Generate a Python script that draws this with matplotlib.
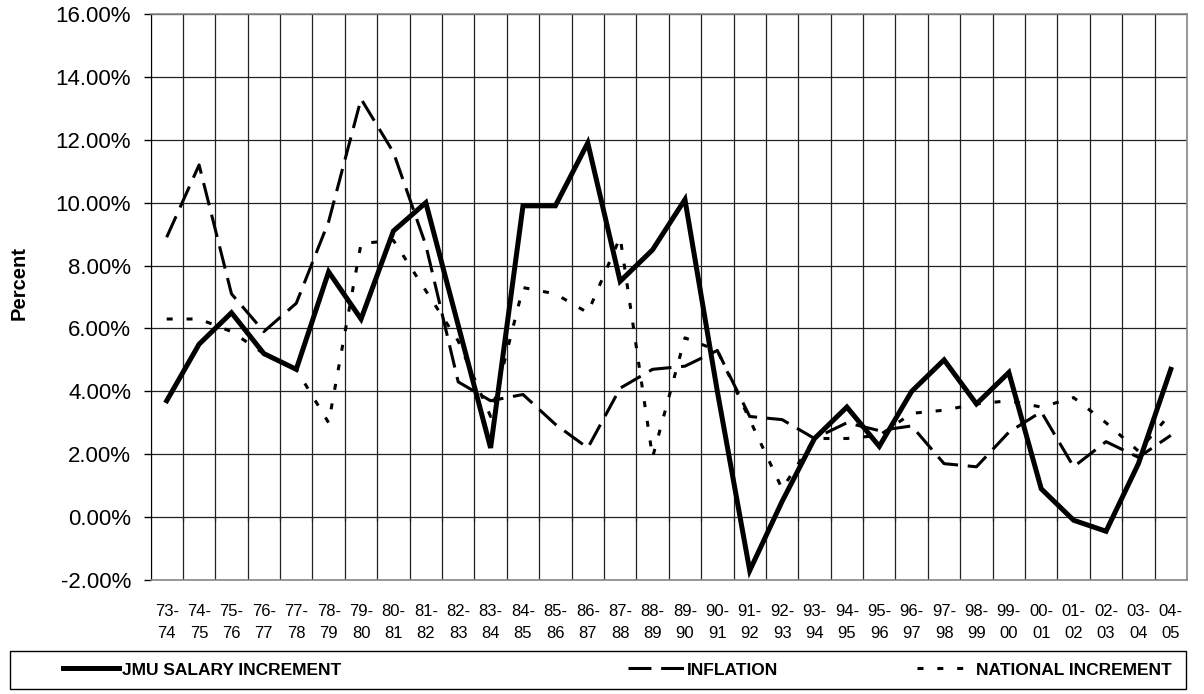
import numpy as np
import matplotlib
matplotlib.use("Agg")
import matplotlib.pyplot as plt
from matplotlib.patches import Rectangle
from matplotlib.lines import Line2D

# academic years, 73-74 .. 04-05
years = ["73-\n74", "74-\n75", "75-\n76", "76-\n77", "77-\n78", "78-\n79", "79-\n80", "80-\n81",
         "81-\n82", "82-\n83", "83-\n84", "84-\n85", "85-\n86", "86-\n87", "87-\n88", "88-\n89",
         "89-\n90", "90-\n91", "91-\n92", "92-\n93", "93-\n94", "94-\n95", "95-\n96", "96-\n97",
         "97-\n98", "98-\n99", "99-\n00", "00-\n01", "01-\n02", "02-\n03", "03-\n04", "04-\n05"]

# percent values
jmu = [3.7, 5.5, 6.5, 5.2, 4.7, 7.8, 6.3, 9.1, 10.0, 6.1, 2.2, 9.9, 9.9, 11.9, 7.5, 8.5,
       10.1, 4.0, -1.7, 0.5, 2.5, 3.5, 2.25, 4.0, 5.0, 3.6, 4.6, 0.9, -0.1, -0.45, 1.7, 4.7]
inflation = [8.9, 11.2, 7.1, 5.9, 6.8, 9.4, 13.3, 11.6, 8.65, 4.3, 3.7, 3.9, 2.95, 2.2, 4.1, 4.7,
             4.8, 5.3, 3.2, 3.1, 2.5, 3.0, 2.75, 2.9, 1.7, 1.6, 2.7, 3.35, 1.6, 2.4, 1.9, 2.6]
national = [6.3, 6.3, 5.9, 5.2, 4.7, 3.0, 8.7, 8.8, 7.2, 5.6, 3.2, 7.3, 7.1, 6.5, 8.9, 1.9,
            5.7, 5.3, 3.1, 0.9, 2.5, 2.5, 2.6, 3.3, 3.4, 3.6, 3.7, 3.5, 3.8, 3.0, 2.1, 3.3]

y_ticks = [-2, 0, 2, 4, 6, 8, 10, 12, 14, 16]

plt.rcParams["font.family"] = ["Liberation Sans", "DejaVu Sans"]
plt.rcParams["lines.scale_dashes"] = False

W, H = 1204, 694
fig = plt.figure(figsize=(W / 100, H / 100), dpi=100)
ax = fig.add_axes([150.5 / W, 1 - 580 / H, (1187 - 150.5) / W, 566 / H])

x = np.arange(len(years))
styles = [
    ("JMU SALARY INCREMENT", jmu, dict(lw=3.6, ls="-")),
    ("INFLATION", inflation, dict(lw=2.2, ls=(0, (16.5, 7.0)))),
    ("NATIONAL INCREMENT", national, dict(lw=2.2, ls=(0, (4.3, 10.0)))),
]
for name, vals, kw in styles:
    ax.plot(x, vals, color="black", solid_joinstyle="miter", dash_capstyle="butt", zorder=3, **kw)

ax.set_xlim(-0.5, len(years) - 0.5)
ax.set_ylim(-2, 16)
ax.set_yticks(y_ticks)
ax.set_yticklabels([f"{v:.2f}%" for v in y_ticks], fontsize=16)
ax.tick_params(axis="y", direction="out", length=5, width=1, pad=9)

ax.set_xticks(x)
ax.set_xticklabels(years, fontsize=12, linespacing=1.65)
ax.tick_params(axis="x", length=0, pad=17)
ax.set_xticks(np.arange(-0.5, len(years), 1), minor=True)
ax.tick_params(axis="x", which="minor", length=0)

ax.grid(True, axis="y", which="major", color="#222222", lw=0.9)
ax.grid(True, axis="x", which="minor", color="#222222", lw=0.9)
ax.set_axisbelow(True)

# category axis crosses at 0: little tick marks
ax.vlines(np.arange(0.5, len(years) - 1, 1), -0.13, 0, color="#222222", lw=0.9)

for s in ["top", "right", "bottom"]:
    ax.spines[s].set_color("#888888")
    ax.spines[s].set_linewidth(1.2)
ax.spines["left"].set_color("black")

ax.set_ylabel("Percent", fontsize=14.5, fontweight="bold")
ax.yaxis.set_label_coords(-0.118, 0.525)

# legend box across the bottom
fig.patches.append(Rectangle((10 / W, 1 - 689 / H), 1176 / W, 38 / H,
                             transform=fig.transFigure, fill=False, ec="black", lw=1.0))
handle_x = [63, 628, 917]
for (name, vals, kw), hx in zip(styles, handle_x):
    h = Line2D([], [], color="black", dash_capstyle="butt", **kw)
    fig.legend([h], [name], loc="center left", bbox_to_anchor=(hx / W, 1 - 670 / H),
               bbox_transform=fig.transFigure, frameon=False, borderpad=0, borderaxespad=0,
               handlelength=3.2, handletextpad=0.2,
               prop=dict(weight="bold", size=12.5))

fig.savefig("out.png", dpi=100)
